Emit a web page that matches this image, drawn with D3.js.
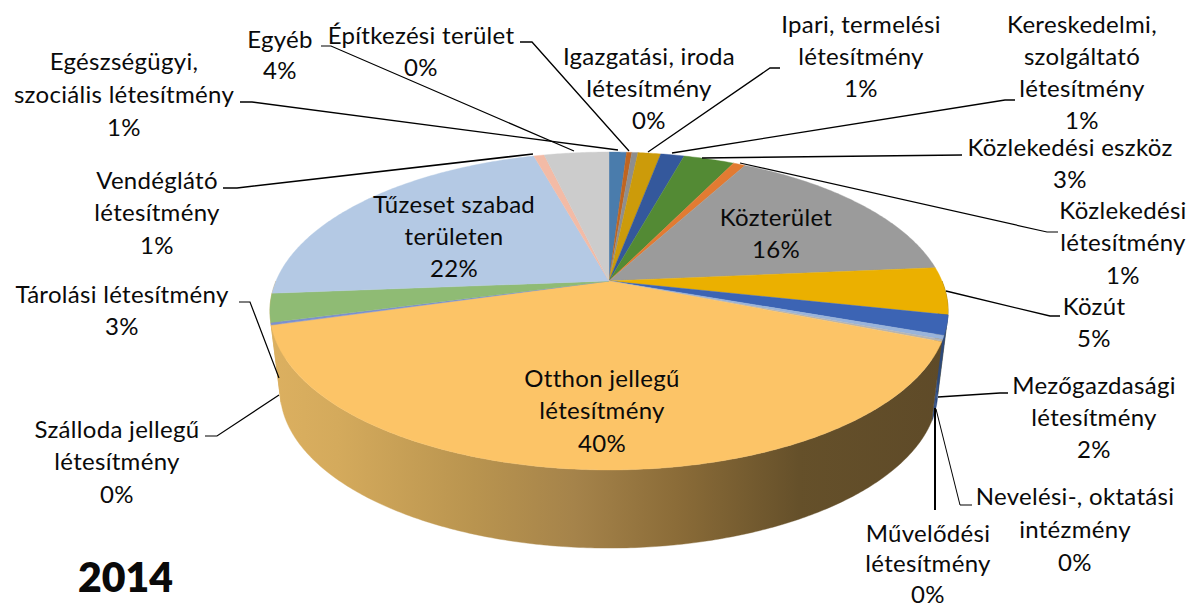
<!DOCTYPE html>
<html><head><meta charset="utf-8">
<script src="https://cdn.jsdelivr.net/npm/d3@7"></script>
<style>html,body{margin:0;padding:0;background:#fff}svg{display:block}text{font-family:Lato,"Open Sans",sans-serif;fill:#0a0a0a}</style>
</head><body><svg id="c" width="1190" height="608"></svg>
<script>
const categories=["Egészségügyi, szociális létesítmény","Építkezési terület","Igazgatási, iroda létesítmény","Ipari, termelési létesítmény","Kereskedelmi, szolgáltató létesítmény","Közlekedési eszköz","Közlekedési létesítmény","Közterület","Közút","Mezőgazdasági létesítmény","Művelődési létesítmény","Nevelési-, oktatási intézmény","Otthon jellegű létesítmény","Szálloda jellegű létesítmény","Tárolási létesítmény","Tűzeset szabad területen","Vendéglátó létesítmény","Egyéb"];
const values=[1.0,0.3,0.35,1.3,1.35,2.9,0.7,15.7,4.8,2.0,0.4,0.2,39.6,0.25,2.9,21.95,0.6,3.7];
const percentLabels=["1%","0%","0%","1%","1%","3%","1%","16%","5%","2%","0%","0%","40%","0%","3%","22%","1%","4%"];
const labelLines=[["Egészségügyi,","szociális létesítmény"],["Építkezési terület"],["Igazgatási, iroda","létesítmény"],["Ipari, termelési","létesítmény"],["Kereskedelmi,","szolgáltató","létesítmény"],["Közlekedési eszköz"],["Közlekedési","létesítmény"],["Közterület"],["Közút"],["Mezőgazdasági","létesítmény"],["Művelődési","létesítmény"],["Nevelési-, oktatási","intézmény"],["Otthon jellegű","létesítmény"],["Szálloda jellegű","létesítmény"],["Tárolási létesítmény"],["Tűzeset szabad","területen"],["Vendéglátó","létesítmény"],["Egyéb"]];
const colors=["#4a7cac","#c0651f","#8e8e8e","#cc9b0a","#34589c","#538a34","#e27b32","#9b9b9b","#ebb000","#3c64b4","#9ab4da","#b5b5b5","#fcc467","#7c90d0","#8fbb74","#b4c9e4","#f3bba6","#cccccc"];
const sideColors=["#000","#000","#000","#000","#000","#000","#000","#000","url(#wallGold)","#2c4a80","#2c4a80","#2c4a80","url(#wall)","url(#wall)","url(#wall)","url(#wall)","#000","#000"];
// label layout: centre x, first line centre y, line gap
const labelPos=[[124,61,33],[421,35,32],[649,56,32],[861,24,32],[1082,24,32],[1070,147,32],[1123,210,32.5],[776,217,32],[1094,306,32],[1094,385,32],[928,533,30.5],[1075,496,33],[602,378,32.5],[117,429,32.5],[122,294,32],[454,204,32],[157,180,32.5],[280,39,31]];
const leaders=[
 {w:1.3,p:[[240,102],[252,102],[618,150]]},
 {w:1.2,p:[[321,46],[331,46],[574,151]]},
 {w:1.3,p:[[520,42],[532,42],[629,151]]},
 {w:1.3,p:[[780,68],[770,68],[648,152]]},
 {w:1.3,p:[[1015,100],[1005,100],[672,153]]},
 {w:1.4,p:[[962,155],[702,158]]},
 {w:1.2,p:[[740,163],[1047,232],[1058,232]]},
 {w:1.3,p:[[946,291],[1050,316],[1060,316]]},
 {w:1.3,p:[[938,397],[1000,393],[1008,393]]},
 {w:2,p:[[935,408],[935,510]]},
 {w:1,p:[[936,409],[960,505],[972,505]]},
 {w:1.2,p:[[239,302],[250,302],[279,378]]},
 {w:1.2,p:[[205,436],[217,436],[279,395]]},
 {w:1.6,p:[[223,188],[237,188],[533,154]]}
];
const svg=d3.select("#c");
const defs=svg.append("defs");
function grad(id,stops){const g=defs.append("linearGradient").attr("id",id).attr("gradientUnits","userSpaceOnUse").attr("x1",270).attr("x2",948).attr("y1",0).attr("y2",0);
 stops.forEach(s=>g.append("stop").attr("offset",s[0]).attr("stop-color",s[1]));}
grad("wall",[[0,"#dcb060"],[0.1,"#d4aa5c"],[0.3,"#b9944f"],[0.45,"#a5834a"],[0.6,"#8b6c38"],[0.78,"#65502a"],[1,"#5e4a28"]]);
grad("wallGold",[[0,"#a07c00"],[1,"#705600"]]);
const pie=d3.pie().sort(null).value(d=>d)(values);
const top_={cx:609,ay:281,A:333,B:153.3,k:0.1887};
const bot_={cx:609,ay:361,A:323,B:151.8,k:0.1887};
function project(t,g){const u=Math.sin(t),v=Math.cos(t),w=1+g.k*v;return [g.cx+g.A*u/w,g.ay-g.B*v/w];}
const line=d3.line();
function samples(a,b){const n=Math.max(2,Math.ceil((b-a)/0.01));return d3.range(n+1).map(i=>a+(b-a)*i/n);}
pie.forEach((d,i)=>{
 const a=Math.max(d.startAngle,Math.PI/2),b=Math.min(d.endAngle,3*Math.PI/2);
 if(b<=a)return;
 const ts=samples(a,b);
 const pts=ts.map(t=>project(t,top_)).concat(ts.slice().reverse().map(t=>project(t,bot_)));
 svg.append("path").attr("d",line(pts)+"Z").attr("fill",sideColors[i]).attr("stroke",sideColors[i]).attr("stroke-width",0.4);
});
pie.forEach((d,i)=>{
 const pts=[[top_.cx,top_.ay]].concat(samples(d.startAngle,d.endAngle).map(t=>project(t,top_)));
 svg.append("path").attr("d",line(pts)+"Z").attr("fill",colors[i]).attr("stroke",colors[i]).attr("stroke-width",0.4);
});
leaders.forEach(l=>svg.append("path").attr("d",line(l.p)).attr("fill","none").attr("stroke","#000").attr("stroke-width",l.w));
categories.forEach((c,i)=>{
 const [x,y,gap]=labelPos[i];
 labelLines[i].concat(percentLabels[i]).forEach((s,j)=>{
  svg.append("text").attr("x",x).attr("y",y+j*gap).attr("dy","0.36em").attr("text-anchor","middle").attr("font-size",24).attr("letter-spacing",0.3).text(s);
 });
});
svg.append("text").attr("x",78).attr("y",592).attr("font-size",41).attr("font-weight",800).text("2014");
</script></body></html>
